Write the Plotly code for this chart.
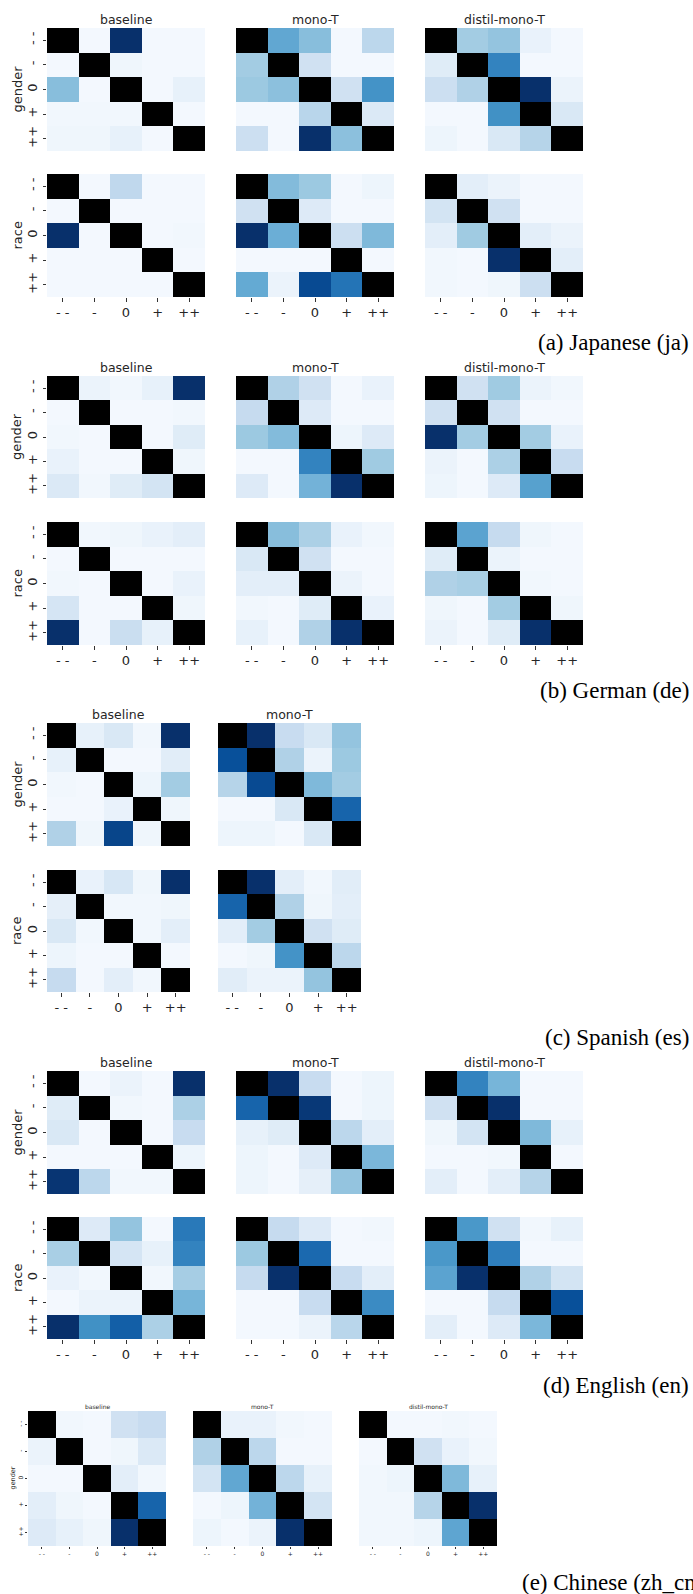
import plotly.graph_objects as go

# ---------------- data ----------------
categories = ["- -", "-", "0", "+", "++"]
models = ["baseline", "mono-T", "distil-mono-T"]
attributes = ["gender", "race"]
D = None  # diagonal (masked, drawn black)

# (a) Japanese
ja_gender_baseline = [[D, 0.02, 1.00, 0.02, 0.02], [0.02, D, 0.04, 0.02, 0.02], [0.43, 0.02, D, 0.02, 0.08], [0.03, 0.03, 0.03, D, 0.02], [0.04, 0.04, 0.08, 0.02, D]]
ja_gender_mono = [[D, 0.53, 0.43, 0.02, 0.28], [0.36, D, 0.20, 0.02, 0.02], [0.38, 0.42, D, 0.20, 0.62], [0.02, 0.02, 0.29, D, 0.14], [0.22, 0.02, 1.00, 0.42, D]]
ja_gender_distil = [[D, 0.36, 0.40, 0.07, 0.02], [0.12, D, 0.68, 0.02, 0.02], [0.22, 0.32, D, 1.00, 0.06], [0.02, 0.02, 0.63, D, 0.15], [0.05, 0.02, 0.15, 0.30, D]]
ja_race_baseline = [[D, 0.02, 0.27, 0.02, 0.02], [0.02, D, 0.02, 0.02, 0.02], [1.00, 0.02, D, 0.02, 0.03], [0.02, 0.02, 0.02, D, 0.02], [0.02, 0.02, 0.02, 0.02, D]]
ja_race_mono = [[D, 0.44, 0.38, 0.02, 0.05], [0.20, D, 0.13, 0.02, 0.02], [1.00, 0.50, D, 0.22, 0.45], [0.02, 0.02, 0.02, D, 0.02], [0.52, 0.06, 0.90, 0.74, D]]
ja_race_distil = [[D, 0.10, 0.06, 0.02, 0.02], [0.18, D, 0.20, 0.02, 0.02], [0.10, 0.37, D, 0.10, 0.06], [0.03, 0.02, 1.00, D, 0.10], [0.03, 0.02, 0.04, 0.22, D]]

# (b) German
de_gender_baseline = [[D, 0.06, 0.03, 0.08, 1.00], [0.02, D, 0.02, 0.02, 0.03], [0.03, 0.02, D, 0.02, 0.12], [0.07, 0.02, 0.02, D, 0.04], [0.14, 0.03, 0.12, 0.18, D]]
de_gender_mono = [[D, 0.32, 0.20, 0.02, 0.07], [0.25, D, 0.13, 0.02, 0.02], [0.38, 0.44, D, 0.05, 0.13], [0.02, 0.02, 0.68, D, 0.37], [0.13, 0.02, 0.48, 1.00, D]]
de_gender_distil = [[D, 0.20, 0.37, 0.06, 0.03], [0.20, D, 0.20, 0.02, 0.02], [1.00, 0.36, D, 0.36, 0.07], [0.06, 0.02, 0.33, D, 0.24], [0.05, 0.02, 0.13, 0.56, D]]
de_race_baseline = [[D, 0.03, 0.04, 0.07, 0.10], [0.02, D, 0.02, 0.02, 0.02], [0.03, 0.02, D, 0.02, 0.07], [0.17, 0.02, 0.02, D, 0.04], [1.00, 0.02, 0.23, 0.08, D]]
de_race_mono = [[D, 0.43, 0.33, 0.07, 0.03], [0.15, D, 0.20, 0.02, 0.02], [0.10, 0.10, D, 0.06, 0.02], [0.03, 0.02, 0.12, D, 0.07], [0.08, 0.02, 0.32, 1.00, D]]
de_race_distil = [[D, 0.55, 0.25, 0.04, 0.02], [0.12, D, 0.06, 0.02, 0.02], [0.32, 0.34, D, 0.03, 0.02], [0.04, 0.02, 0.36, D, 0.04], [0.06, 0.02, 0.12, 1.00, D]]

# (c) Spanish
es_gender_baseline = [[D, 0.08, 0.15, 0.03, 1.00], [0.08, D, 0.02, 0.02, 0.11], [0.03, 0.02, D, 0.05, 0.36], [0.02, 0.02, 0.07, D, 0.04], [0.32, 0.04, 0.92, 0.04, D]]
es_gender_mono = [[D, 1.00, 0.24, 0.15, 0.40], [0.88, D, 0.32, 0.06, 0.38], [0.30, 0.90, D, 0.45, 0.36], [0.02, 0.02, 0.15, D, 0.80], [0.05, 0.05, 0.02, 0.15, D]]
es_race_baseline = [[D, 0.07, 0.16, 0.04, 1.00], [0.09, D, 0.03, 0.03, 0.04], [0.15, 0.03, D, 0.03, 0.10], [0.05, 0.02, 0.02, D, 0.02], [0.25, 0.02, 0.10, 0.03, D]]
es_race_mono = [[D, 1.00, 0.10, 0.03, 0.11], [0.80, D, 0.32, 0.04, 0.10], [0.10, 0.36, D, 0.20, 0.12], [0.02, 0.04, 0.62, D, 0.28], [0.11, 0.06, 0.06, 0.40, D]]

# (d) English
en_gender_baseline = [[D, 0.02, 0.06, 0.02, 1.00], [0.12, D, 0.03, 0.02, 0.33], [0.15, 0.02, D, 0.02, 0.24], [0.02, 0.02, 0.02, D, 0.05], [0.98, 0.28, 0.03, 0.03, D]]
en_gender_mono = [[D, 1.00, 0.24, 0.02, 0.05], [0.80, D, 0.97, 0.02, 0.05], [0.08, 0.12, D, 0.28, 0.10], [0.05, 0.02, 0.13, D, 0.46], [0.05, 0.02, 0.09, 0.40, D]]
en_gender_distil = [[D, 0.68, 0.47, 0.02, 0.02], [0.20, D, 1.00, 0.02, 0.02], [0.04, 0.18, D, 0.45, 0.08], [0.02, 0.02, 0.03, D, 0.02], [0.10, 0.02, 0.10, 0.30, D]]
en_race_baseline = [[D, 0.13, 0.40, 0.02, 0.72], [0.34, D, 0.17, 0.08, 0.68], [0.07, 0.03, D, 0.03, 0.35], [0.02, 0.06, 0.06, D, 0.47], [1.00, 0.63, 0.82, 0.33, D]]
en_race_mono = [[D, 0.25, 0.13, 0.02, 0.03], [0.38, D, 0.78, 0.02, 0.02], [0.25, 1.00, D, 0.24, 0.10], [0.02, 0.02, 0.24, D, 0.65], [0.02, 0.02, 0.06, 0.29, D]]
en_race_distil = [[D, 0.60, 0.20, 0.03, 0.08], [0.60, D, 0.70, 0.02, 0.02], [0.55, 1.00, D, 0.32, 0.18], [0.02, 0.02, 0.25, D, 0.88], [0.10, 0.02, 0.13, 0.46, D]]

# (e) Chinese
zh_gender_baseline = [[D, 0.03, 0.02, 0.20, 0.24], [0.06, D, 0.02, 0.04, 0.14], [0.02, 0.02, D, 0.10, 0.03], [0.10, 0.04, 0.02, D, 0.80], [0.13, 0.08, 0.04, 1.00, D]]
zh_gender_mono = [[D, 0.07, 0.07, 0.03, 0.02], [0.32, D, 0.28, 0.02, 0.02], [0.18, 0.53, D, 0.28, 0.08], [0.02, 0.05, 0.48, D, 0.18], [0.05, 0.02, 0.06, 1.00, D]]
zh_gender_distil = [[D, 0.02, 0.02, 0.03, 0.02], [0.02, D, 0.20, 0.07, 0.03], [0.03, 0.05, D, 0.45, 0.08], [0.03, 0.03, 0.30, D, 1.00], [0.03, 0.03, 0.05, 0.54, D]]

captions = ["(a) Japanese (ja)", "(b) German (de)", "(c) Spanish (es)", "(d) English (en)", "(e) Chinese (zh_cn)"]

# ---------------- layout / styling ----------------
W, H = 693, 1594
BLUES = [[0.0, "#f7fbff"], [0.125, "#deebf7"], [0.25, "#c6dbef"], [0.375, "#9ecae1"],
         [0.5, "#6baed6"], [0.625, "#4292c6"], [0.75, "#2171b5"], [0.875, "#08519c"], [1.0, "#08306b"]]
SANS = "DejaVu Sans"
TXT = "#262626"

panels = [
    dict(data=[[ja_gender_baseline, ja_gender_mono, ja_gender_distil],
               [ja_race_baseline, ja_race_mono, ja_race_distil]],
         xs=[(47, 205), (236, 394), (425, 583)], ys=[(28, 151), (174, 297)],
         cap=(691, 342, "right"), small=False),
    dict(data=[[de_gender_baseline, de_gender_mono, de_gender_distil],
               [de_race_baseline, de_race_mono, de_race_distil]],
         xs=[(47, 205), (236, 394), (425, 583)], ys=[(376, 498), (522, 645)],
         cap=(691, 690, "right"), small=False),
    dict(data=[[es_gender_baseline, es_gender_mono],
               [es_race_baseline, es_race_mono]],
         xs=[(47, 190), (218, 361)], ys=[(723, 846), (870, 992)],
         cap=(691, 1037, "right"), small=False),
    dict(data=[[en_gender_baseline, en_gender_mono, en_gender_distil],
               [en_race_baseline, en_race_mono, en_race_distil]],
         xs=[(47, 205), (236, 394), (425, 583)], ys=[(1071, 1194), (1217, 1339)],
         cap=(691, 1385, "right"), small=False),
    dict(data=[[zh_gender_baseline, zh_gender_mono, zh_gender_distil]],
         xs=[(28, 166), (193, 332), (359, 497)], ys=[(1411, 1546)],
         cap=(520, 1582, "left"), small=True),
]

fig = go.Figure()
annotations = []
idx = 0
n = len(categories)
pos = list(range(n))
diag = [[1 if i == j else None for j in range(n)] for i in range(n)]

for p_i, p in enumerate(panels):
    small = p["small"]
    tick_fs = 6 if small else 13
    title_fs = 6 if small else 12.5
    lab_fs = 6.5 if small else 13
    tlen = 2 if small else 3.5
    nrows = len(p["data"])
    for r, row in enumerate(p["data"]):
        y0, y1 = p["ys"][r]
        for c, z in enumerate(row):
            x0, x1 = p["xs"][c]
            idx += 1
            sfx = "" if idx == 1 else str(idx)
            xa, ya = "x" + sfx, "y" + sfx
            fig.add_trace(go.Heatmap(z=z, x=pos, y=pos, colorscale=BLUES, zmin=0, zmax=1,
                                     showscale=False, xaxis=xa, yaxis=ya, hoverongaps=False))
            fig.add_trace(go.Heatmap(z=diag, x=pos, y=pos, colorscale=[[0, "#000000"], [1, "#000000"]],
                                     zmin=0, zmax=1, showscale=False, xaxis=xa, yaxis=ya))
            show_x = (r == nrows - 1)
            show_y = (c == 0)
            fig.update_layout(**{
                "xaxis" + sfx: dict(domain=[x0 / W, x1 / W], anchor=ya, range=[-0.5, n - 0.5],
                                    showgrid=False, zeroline=False, showline=False,
                                    tickmode="array", tickvals=pos if show_x else [],
                                    ticktext=categories if show_x else [],
                                    ticks="outside" if show_x else "", ticklen=tlen, tickwidth=1,
                                    tickcolor="#333333", showticklabels=show_x,
                                    tickfont=dict(family=SANS, size=tick_fs, color=TXT)),
                "yaxis" + sfx: dict(domain=[1 - y1 / H, 1 - y0 / H], anchor=xa, range=[n - 0.5, -0.5],
                                    showgrid=False, zeroline=False, showline=False,
                                    tickmode="array", tickvals=pos if show_y else [],
                                    ticktext=categories if show_y else [],
                                    ticks="outside" if show_y else "", ticklen=tlen, tickwidth=1,
                                    tickcolor="#333333", showticklabels=show_y, tickangle=-90,
                                    tickfont=dict(family=SANS, size=tick_fs, color=TXT)),
            })
            if r == 0:
                annotations.append(dict(text=models[c], x=(x0 + x1) / 2 / W,
                                        y=1 - (y0 - (5 if small else 9)) / H,
                                        xref="paper", yref="paper", showarrow=False,
                                        xanchor="center", yanchor="middle",
                                        font=dict(family=SANS, size=title_fs, color=TXT)))
            if c == 0:
                annotations.append(dict(text=attributes[r], x=(12 if small else 17) / W,
                                        y=1 - (y0 + y1) / 2 / H, xref="paper", yref="paper",
                                        showarrow=False, textangle=-90, xanchor="center",
                                        yanchor="middle",
                                        font=dict(family=SANS, size=lab_fs, color=TXT)))
    cx, cy, anch = p["cap"]
    annotations.append(dict(text=captions[p_i], x=cx / W, y=1 - cy / H, xref="paper", yref="paper",
                            showarrow=False, xanchor=anch, yanchor="middle",
                            font=dict(family="Liberation Serif", size=23, color="#000000")))

fig.update_layout(width=W, height=H, margin=dict(l=0, r=0, t=0, b=0),
                  paper_bgcolor="white", plot_bgcolor="white", annotations=annotations,
                  showlegend=False)

fig.write_html("out.html", config={"displayModeBar": False},
               post_script="document.body.style.margin='0';")
